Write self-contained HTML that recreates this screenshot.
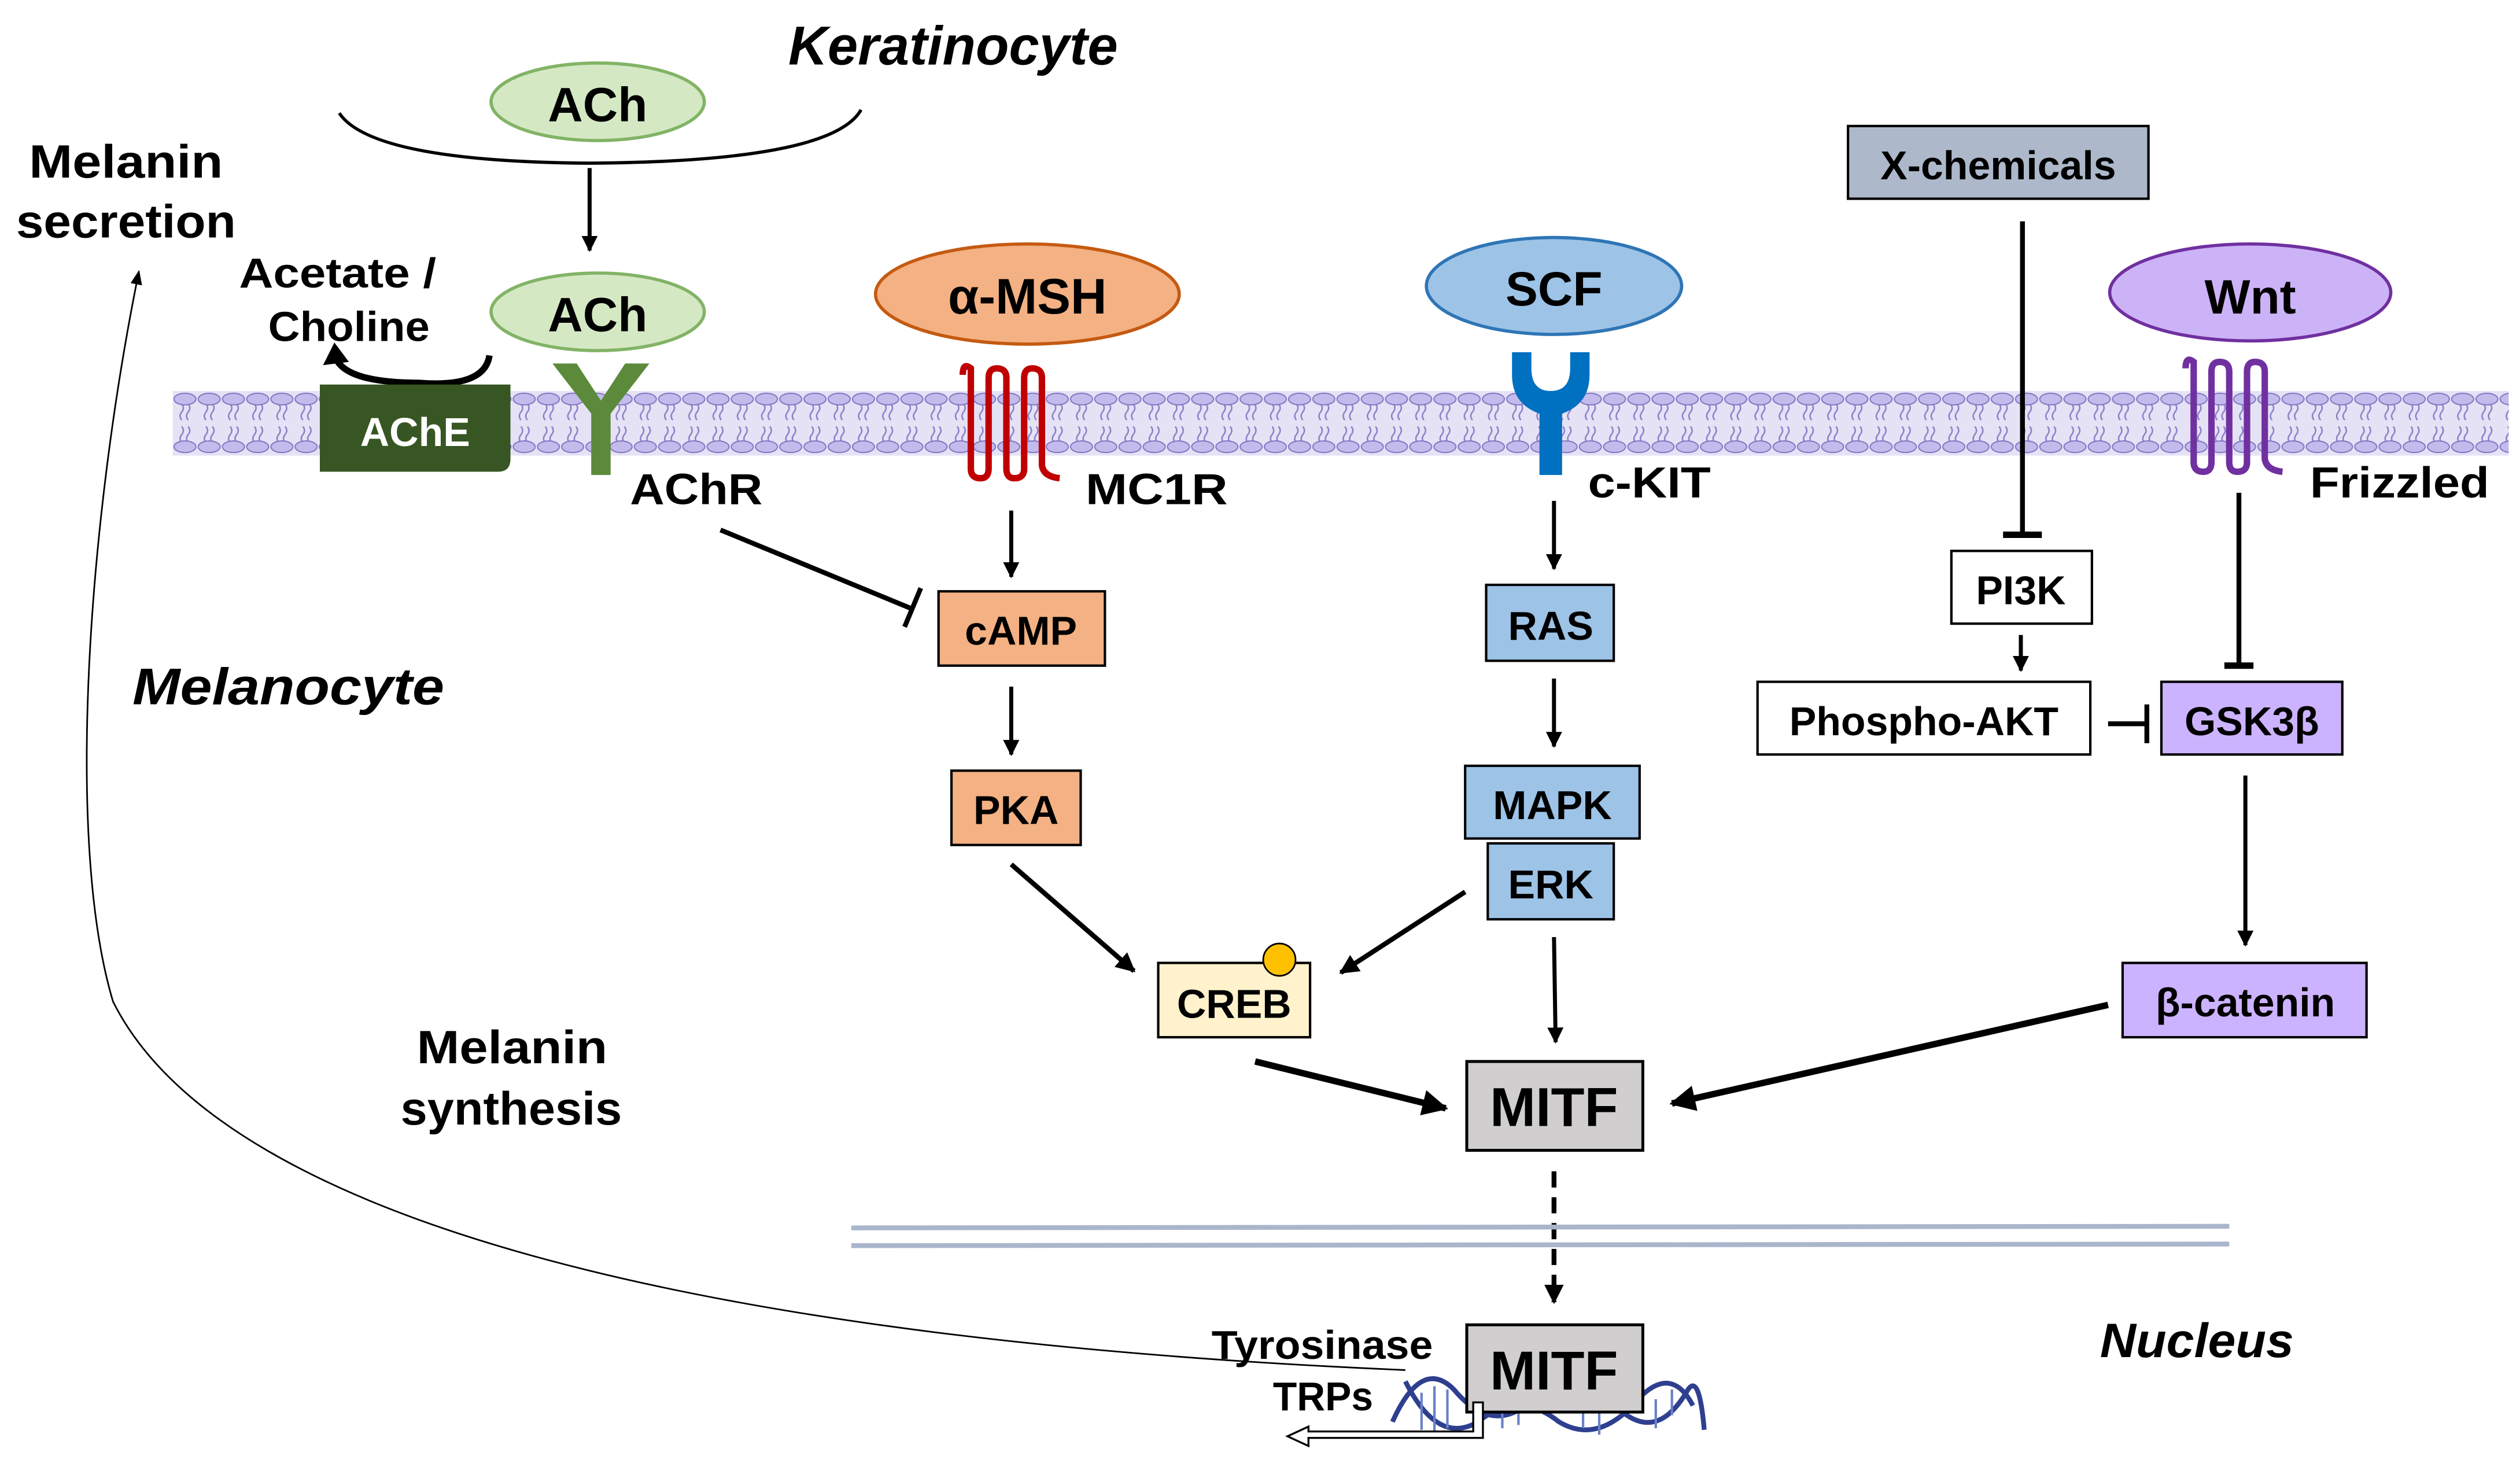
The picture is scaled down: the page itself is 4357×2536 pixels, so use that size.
<!DOCTYPE html>
<html><head><meta charset="utf-8"><style>
html,body{margin:0;padding:0;background:#fff;}
svg{display:block;}
text{font-family:"Liberation Sans",sans-serif;font-weight:bold;fill:#000;}
</style></head><body>
<svg width="4357" height="2536" viewBox="0 0 1560 908" preserveAspectRatio="none" xmlns="http://www.w3.org/2000/svg">
<defs>
<pattern id="mem" x="107" y="240" width="15" height="45" patternUnits="userSpaceOnUse">
<rect x="0" y="0" width="15" height="45" fill="#e6e2f6"/>
<path d="M5.5 10 q2 2.5 0 5 q-2 2.5 0 5 M9.5 10 q2 2.5 0 5 q-2 2.5 0 5 M5.5 24 q2 2.5 0 5 q-2 2.5 0 5 M9.5 24 q2 2.5 0 5 q-2 2.5 0 5" fill="none" stroke="#8a80c8" stroke-width="0.9"/>
<ellipse cx="7.5" cy="7" rx="6.8" ry="3.6" fill="#c3bbec" stroke="#7f74c0" stroke-width="0.7"/>
<ellipse cx="7.5" cy="36.5" rx="6.8" ry="3.6" fill="#c3bbec" stroke="#7f74c0" stroke-width="0.7"/>
</pattern>
<marker id="ahs" viewBox="0 0 10 10" refX="9" refY="5" markerWidth="4" markerHeight="4" orient="auto" markerUnits="strokeWidth"><path d="M0 0 L10 5 L0 10 z" fill="#000"/></marker>
<marker id="ahthin" viewBox="0 0 10 10" refX="9" refY="5" markerWidth="9" markerHeight="9" orient="auto" markerUnits="strokeWidth"><path d="M0 1 L10 5 L0 9 z" fill="#000"/></marker>
</defs>

<rect x="107" y="242" width="1446" height="40" fill="url(#mem)"/>

<text x="488" y="40" font-size="34" font-style="italic" textLength="204" lengthAdjust="spacingAndGlyphs">Keratinocyte</text>
<ellipse cx="370" cy="63" rx="66" ry="24" fill="#d5e8c4" stroke="#82b366" stroke-width="2"/>
<text x="370" y="75" font-size="30" text-anchor="middle">ACh</text>
<path d="M210 70 Q230 100 365 101 Q515 100 533 68" fill="none" stroke="#000" stroke-width="2"/>
<line x1="365" y1="104" x2="365" y2="155" stroke="#000" stroke-width="2.5" marker-end="url(#ahs)"/>

<ellipse cx="370" cy="193" rx="66" ry="24" fill="#d5e8c4" stroke="#82b366" stroke-width="2"/>
<text x="370" y="205" font-size="30" text-anchor="middle">ACh</text>

<text x="148" y="178" font-size="26" textLength="122" lengthAdjust="spacingAndGlyphs">Acetate /</text>
<text x="166" y="211" font-size="26" textLength="100" lengthAdjust="spacingAndGlyphs">Choline</text>
<path d="M303 220 Q300 240 260 237 Q215 237 208 222" fill="none" stroke="#000" stroke-width="4"/>
<path d="M200 226 L207 212 L216 224 z" fill="#000"/>

<text x="18" y="110" font-size="29" textLength="120" lengthAdjust="spacingAndGlyphs">Melanin</text>
<text x="10" y="147" font-size="29" textLength="136" lengthAdjust="spacingAndGlyphs">secretion</text>

<path d="M198 238 H316 V284 Q316 292 308 292 H198 Z" fill="#375623"/>
<text x="257" y="276" font-size="25" text-anchor="middle" style="fill:#fff">AChE</text>
<path d="M342 225 L357 225 L372 248 L387 225 L402 225 L378 256 L378 294 L366 294 L366 256 Z" fill="#5b8a3a"/>
<text x="390" y="312" font-size="27" textLength="82" lengthAdjust="spacingAndGlyphs">AChR</text>

<ellipse cx="636" cy="182" rx="94" ry="31" fill="#f4b183" stroke="#c55a11" stroke-width="2"/>
<text x="636" y="194" font-size="31" text-anchor="middle">α-MSH</text>
<path d="M596 232 Q596 224 601 228 L601 290 Q601 296 607 296 Q612 296 612 290 L612 234 Q612 228 617 228 Q623 228 623 234 L623 290 Q623 296 628 296 Q634 296 634 290 L634 234 Q634 228 639 228 Q645 228 645 234 L645 288 Q646 295 656 296" fill="none" stroke="#c00000" stroke-width="4"/>
<text x="672" y="312" font-size="27" textLength="88" lengthAdjust="spacingAndGlyphs">MC1R</text>
<line x1="626" y1="316" x2="626" y2="357" stroke="#000" stroke-width="2.5" marker-end="url(#ahs)"/>
<rect x="581" y="366" width="103" height="46" fill="#f4b183" stroke="#000" stroke-width="1.5"/>
<text x="632" y="399" font-size="25" text-anchor="middle">cAMP</text>
<line x1="446" y1="328" x2="565" y2="377" stroke="#000" stroke-width="3"/>
<line x1="560" y1="388" x2="570" y2="364" stroke="#000" stroke-width="3"/>
<line x1="626" y1="425" x2="626" y2="467" stroke="#000" stroke-width="2.5" marker-end="url(#ahs)"/>
<rect x="589" y="477" width="80" height="46" fill="#f4b183" stroke="#000" stroke-width="1.5"/>
<text x="629" y="510" font-size="25" text-anchor="middle">PKA</text>
<line x1="626" y1="535" x2="702" y2="601" stroke="#000" stroke-width="3" marker-end="url(#ahs)"/>

<rect x="717" y="596" width="94" height="46" fill="#fff2cc" stroke="#000" stroke-width="1.5"/>
<circle cx="792" cy="594" r="10" fill="#ffc000" stroke="#000" stroke-width="1"/>
<text x="764" y="630" font-size="25" text-anchor="middle">CREB</text>
<line x1="777" y1="657" x2="895" y2="686" stroke="#000" stroke-width="4" marker-end="url(#ahs)"/>

<ellipse cx="962" cy="177" rx="79" ry="30" fill="#9dc3e6" stroke="#2e75b6" stroke-width="2"/>
<text x="962" y="189" font-size="30" text-anchor="middle">SCF</text>
<path d="M936 218 L948 218 L948 228 Q948 242 960 242 Q972 242 972 228 L972 218 L984 218 L984 232 Q984 250 967 256 L967 294 L953 294 L953 256 Q936 250 936 232 Z" fill="#0070c0"/>
<text x="983" y="308" font-size="27" textLength="76" lengthAdjust="spacingAndGlyphs">c-KIT</text>
<line x1="962" y1="310" x2="962" y2="352" stroke="#000" stroke-width="2.5" marker-end="url(#ahs)"/>
<rect x="920" y="362" width="79" height="47" fill="#9dc3e6" stroke="#000" stroke-width="1.5"/>
<text x="960" y="396" font-size="25" text-anchor="middle">RAS</text>
<line x1="962" y1="420" x2="962" y2="462" stroke="#000" stroke-width="2.5" marker-end="url(#ahs)"/>
<rect x="907" y="474" width="108" height="45" fill="#9dc3e6" stroke="#000" stroke-width="1.5"/>
<text x="961" y="507" font-size="25" text-anchor="middle">MAPK</text>
<rect x="921" y="522" width="78" height="47" fill="#9dc3e6" stroke="#000" stroke-width="1.5"/>
<text x="960" y="556" font-size="25" text-anchor="middle">ERK</text>
<line x1="907" y1="552" x2="830" y2="602" stroke="#000" stroke-width="3" marker-end="url(#ahs)"/>
<line x1="962" y1="580" x2="963" y2="645" stroke="#000" stroke-width="2.5" marker-end="url(#ahs)"/>

<rect x="908" y="657" width="109" height="55" fill="#d0cece" stroke="#000" stroke-width="1.8"/>
<text x="962" y="697" font-size="34" text-anchor="middle">MITF</text>
<line x1="962" y1="725" x2="962" y2="806" stroke="#000" stroke-width="3" stroke-dasharray="10,6" marker-end="url(#ahs)"/>

<rect x="1144" y="78" width="186" height="45" fill="#adb9ca" stroke="#000" stroke-width="1.5"/>
<text x="1237" y="111" font-size="25" text-anchor="middle">X-chemicals</text>
<line x1="1252" y1="137" x2="1252" y2="331" stroke="#000" stroke-width="3"/>
<line x1="1240" y1="331" x2="1264" y2="331" stroke="#000" stroke-width="4"/>
<rect x="1208" y="341" width="87" height="45" fill="#fff" stroke="#000" stroke-width="1.5"/>
<text x="1251" y="374" font-size="25" text-anchor="middle">PI3K</text>
<line x1="1251" y1="393" x2="1251" y2="415" stroke="#000" stroke-width="2.5" marker-end="url(#ahs)"/>
<rect x="1088" y="422" width="206" height="45" fill="#fff" stroke="#000" stroke-width="1.5"/>
<text x="1191" y="455" font-size="25" text-anchor="middle">Phospho-AKT</text>
<line x1="1305" y1="448" x2="1328" y2="448" stroke="#000" stroke-width="3"/>
<line x1="1329" y1="436" x2="1329" y2="460" stroke="#000" stroke-width="3"/>
<rect x="1338" y="422" width="112" height="45" fill="#ccb3ff" stroke="#000" stroke-width="1.5"/>
<text x="1394" y="455" font-size="25" text-anchor="middle">GSK3β</text>

<ellipse cx="1393" cy="181" rx="87" ry="30" fill="#ccb3f7" stroke="#7030a0" stroke-width="2"/>
<text x="1393" y="194" font-size="30" text-anchor="middle">Wnt</text>
<path d="M1353 228 Q1353 220 1358 224 L1358 286 Q1358 292 1364 292 Q1369 292 1369 286 L1369 230 Q1369 224 1374 224 Q1380 224 1380 230 L1380 286 Q1380 292 1385 292 Q1391 292 1391 286 L1391 230 Q1391 224 1396 224 Q1402 224 1402 230 L1402 284 Q1403 291 1413 292" fill="none" stroke="#7030a0" stroke-width="4"/>
<text x="1430" y="308" font-size="27" textLength="111" lengthAdjust="spacingAndGlyphs">Frizzled</text>
<line x1="1386" y1="305" x2="1386" y2="412" stroke="#000" stroke-width="3"/>
<line x1="1377" y1="412" x2="1395" y2="412" stroke="#000" stroke-width="4"/>
<line x1="1390" y1="480" x2="1390" y2="585" stroke="#000" stroke-width="2.5" marker-end="url(#ahs)"/>
<rect x="1314" y="596" width="151" height="46" fill="#ccb3ff" stroke="#000" stroke-width="1.5"/>
<text x="1390" y="629" font-size="25" text-anchor="middle">β-catenin</text>
<line x1="1305" y1="622" x2="1035" y2="683" stroke="#000" stroke-width="4" marker-end="url(#ahs)"/>

<text x="82" y="436" font-size="32" font-style="italic" textLength="193" lengthAdjust="spacingAndGlyphs">Melanocyte</text>
<text x="258" y="658" font-size="29" textLength="118" lengthAdjust="spacingAndGlyphs">Melanin</text>
<text x="248" y="696" font-size="29" textLength="137" lengthAdjust="spacingAndGlyphs">synthesis</text>
<text x="1300" y="840" font-size="30" font-style="italic" textLength="120" lengthAdjust="spacingAndGlyphs">Nucleus</text>

<line x1="527" y1="760" x2="1380" y2="759" stroke="#a9b6cc" stroke-width="3"/>
<line x1="527" y1="771" x2="1380" y2="770" stroke="#a9b6cc" stroke-width="3"/>

<path d="M870 848 C450 830 140 760 70 620 C40 520 55 320 86 168" fill="none" stroke="#000" stroke-width="1" marker-end="url(#ahthin)"/>

<g fill="none" stroke="#2f3f8f" stroke-width="3">
<path d="M862 880 Q880 840 900 860 Q925 890 950 865 Q975 840 1000 870 Q1025 895 1045 860 Q1052 850 1055 885"/>
<path d="M870 855 Q890 895 915 880 Q940 860 965 880 Q990 895 1015 865 Q1035 845 1048 870"/>
</g>
<g stroke="#6a7fc8" stroke-width="1.5">
<line x1="880" y1="862" x2="880" y2="885"/><line x1="888" y1="858" x2="888" y2="886"/><line x1="896" y1="860" x2="896" y2="884"/>
<line x1="930" y1="870" x2="930" y2="884"/><line x1="940" y1="868" x2="940" y2="882"/>
<line x1="980" y1="860" x2="980" y2="884"/><line x1="990" y1="864" x2="990" y2="888"/>
<line x1="1025" y1="866" x2="1025" y2="884"/><line x1="1035" y1="860" x2="1035" y2="876"/>
</g>
<rect x="908" y="820" width="109" height="54" fill="#d0cece" stroke="#000" stroke-width="1.8"/>
<text x="962" y="860" font-size="34" text-anchor="middle">MITF</text>
<text x="750" y="841" font-size="25" textLength="137" lengthAdjust="spacingAndGlyphs">Tyrosinase</text>
<text x="788" y="873" font-size="25" textLength="62" lengthAdjust="spacingAndGlyphs">TRPs</text>
<path d="M912 868 H918 V890 H810 V895 L797 889 L810 883 V886 H912 Z" fill="#fff" stroke="#000" stroke-width="1.2"/>
</svg>
</body></html>
